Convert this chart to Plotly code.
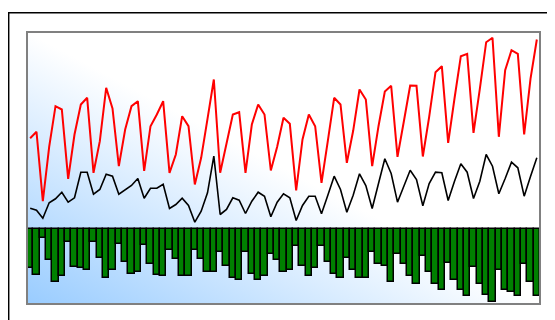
import base64
import plotly.graph_objects as go

# quarter index
periods = list(range(81))

red_series = [90.3, 96.7, 27.3, 81.7, 122.3, 119.0, 49.7, 94.0, 124.0, 130.7,
              55.7, 87.3, 140.7, 120.0, 62.3, 99.0, 122.3, 127.3, 57.7, 102.3,
              114.0, 127.3, 55.7, 74.0, 112.3, 102.3, 44.0, 70.7, 109.7, 149.0,
              55.7, 84.0, 114.0, 116.3, 55.7, 104.0, 124.0, 114.0, 58.0, 81.7,
              110.7, 104.7, 38.0, 89.0, 114.0, 102.3, 45.7, 87.7, 130.7, 124.0,
              65.7, 97.7, 139.0, 129.0, 62.3, 102.3, 137.0, 142.7, 71.7, 107.0,
              143.0, 142.7, 72.0, 111.7, 156.3, 162.3, 85.7, 130.0, 172.3, 174.7,
              95.7, 139.7, 186.3, 190.7, 91.7, 158.3, 178.3, 174.7, 94.0, 149.7,
              189.0]

black_series = [20.3, 18.3, 10.3, 25.7, 29.7, 36.3, 26.3, 30.7, 56.3, 56.3,
                34.3, 39.0, 54.3, 52.3, 34.3, 38.3, 43.0, 50.0, 30.3, 40.3,
                40.3, 44.3, 20.0, 24.0, 30.3, 23.0, 6.3, 17.3, 35.7, 72.3,
                14.0, 19.0, 30.7, 28.3, 15.0, 27.3, 36.3, 32.3, 11.7, 26.3,
                34.7, 30.7, 8.0, 23.0, 32.3, 32.3, 14.7, 33.3, 52.3, 39.0,
                16.3, 33.3, 54.7, 43.0, 20.0, 45.0, 69.7, 55.0, 26.3, 42.3,
                58.3, 49.0, 22.7, 45.0, 56.3, 55.7, 28.0, 47.3, 64.7, 56.3,
                30.0, 47.3, 74.0, 62.3, 34.7, 50.0, 66.3, 60.7, 32.3, 52.0,
                70.7]

green_series = [-39.7, -46.0, -9.3, -31.0, -53.7, -47.7, -13.3, -38.0, -39.7, -41.3,
                -13.3, -29.7, -49.3, -41.0, -15.3, -33.0, -45.3, -43.0, -16.0, -35.0,
                -46.0, -47.7, -21.7, -30.3, -47.7, -47.7, -21.7, -30.0, -43.7, -43.7,
                -23.0, -37.7, -49.3, -51.7, -23.3, -45.3, -51.7, -47.3, -25.3, -31.3,
                -43.7, -41.3, -17.7, -37.3, -47.3, -39.3, -17.0, -33.3, -45.7, -49.3,
                -29.3, -41.0, -49.3, -49.0, -23.0, -35.7, -37.7, -53.3, -25.3, -35.7,
                -47.3, -55.3, -27.0, -43.7, -55.0, -61.7, -34.3, -51.0, -61.3, -67.7,
                -38.3, -55.0, -66.0, -73.3, -41.0, -61.3, -63.3, -67.7, -35.7, -53.0,
                -67.7]

fig = go.Figure()
fig.add_trace(go.Bar(x=periods, y=green_series,
                     marker=dict(color="#008000", line=dict(color="#000000", width=1.5)),
                     showlegend=False, hoverinfo="skip"))
fig.add_trace(go.Scatter(x=periods, y=black_series, mode="lines",
                         line=dict(color="#000000", width=1.6), showlegend=False))
fig.add_trace(go.Scatter(x=periods, y=red_series, mode="lines",
                         line=dict(color="#FF0000", width=2), showlegend=False))

svg = ('<svg xmlns="http://www.w3.org/2000/svg" width="100" height="100" '
       'viewBox="0 0 100 100" preserveAspectRatio="none">'
       '<defs><linearGradient id="g" x1="0" y1="1" x2="1" y2="0">'
       '<stop offset="0" stop-color="#99CCFF"/>'
       '<stop offset="0.5" stop-color="#FFFFFF"/>'
       '<stop offset="1" stop-color="#FFFFFF"/>'
       '</linearGradient></defs>'
       '<rect x="0" y="0" width="100" height="100" fill="url(#g)"/></svg>')
src = "data:image/svg+xml;base64," + base64.b64encode(svg.encode()).decode()

fig.update_layout(
    width=555, height=320,
    margin=dict(l=19, r=23, t=24, b=24),
    paper_bgcolor="#FFFFFF",
    plot_bgcolor="rgba(0,0,0,0)",
    bargap=0,
    showlegend=False,
    xaxis=dict(range=[-0.5, 80.5], showgrid=False, zeroline=False,
               showticklabels=False, ticks="", fixedrange=True),
    yaxis=dict(range=[-75.5, 196.5], showgrid=False, zeroline=False,
               showticklabels=False, ticks="", fixedrange=True),
    images=[dict(source=src, xref="paper", yref="paper", x=0, y=1,
                 sizex=1, sizey=1, xanchor="left", yanchor="top",
                 sizing="stretch", layer="below")],
    shapes=[
        dict(type="rect", xref="paper", yref="paper", x0=0, y0=0, x1=1, y1=1,
             line=dict(color="#808080", width=2), fillcolor="rgba(0,0,0,0)", layer="above"),
        dict(type="rect", xref="paper", yref="paper", x0=-0.0357, y0=-0.2, x1=1.2, y1=1.071,
             line=dict(color="#000000", width=1.5), fillcolor="rgba(0,0,0,0)", layer="above"),
    ],
)

fig.write_html("out.html")
